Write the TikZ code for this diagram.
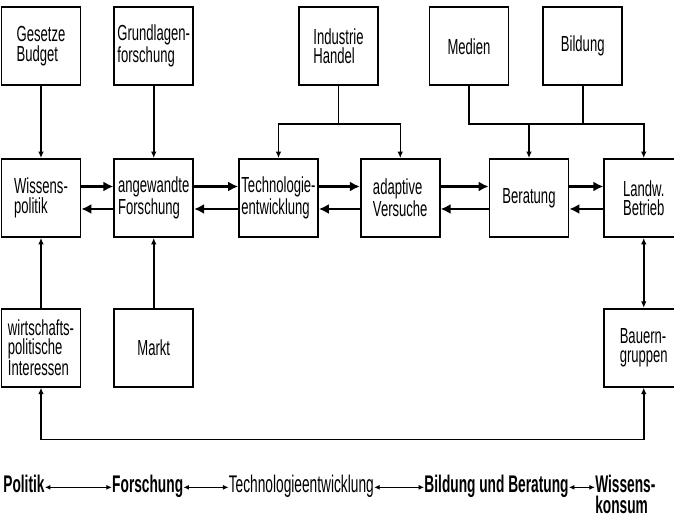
\documentclass[tikz,border=0pt]{standalone}
\usepackage{fontspec}
\setmainfont[FakeStretch=0.6]{Liberation Sans}
\newfontfamily\footfamily[FakeStretch=0.57]{Liberation Sans}
\usetikzlibrary{arrows.meta,calc,positioning}

\newcommand\diagboxfont{\fontsize{12.4pt}{11pt}\selectfont}
\newcommand\diagfootfont{\footfamily\fontsize{13.7pt}{12pt}\selectfont}

\tikzset{
  >={Latex[length=1.3mm,width=1.1mm]},
  box/.style={
    draw, line width=0.35mm,
    minimum width=15.8mm,
    minimum height=15.6mm,
    inner sep=1pt,
    align=left,
    font=\diagboxfont
  },
  link/.style={
    line width=0.3mm
  },
  flow/.style={
    line width=0.55mm,
    -{Latex[length=2mm,width=2mm]}
  },
  foot/.style={
    inner sep=0pt,
    font=\diagfootfont\bfseries
  },
  footarrow/.style={
    <->, line width=0.25mm,
    >={Latex[length=1.1mm,width=1mm]}
  }
}

\begin{document}
\begin{tikzpicture}
  \useasboundingbox (0,0) rectangle (134.8mm,-104mm);

  % middle row
  \node[box] (wissens) at (8.2mm,-39.6mm) {Wissens-\\politik};
  \node[box,right=6.4mm of wissens] (angew) {angewandte\\Forschung};
  \node[box,right=8.8mm of angew] (techno) {Technologie-\\entwicklung};
  \node[box,right=8.2mm of techno] (adaptive) {adaptive\\Versuche};
  \node[box,right=9.6mm of adaptive] (beratung) {Beratung};
  \node[box,right=6.8mm of beratung] (landw) {Landw.\\Betrieb};

  % top row
  \node[box,above=14.4mm of wissens] (gesetze) {Gesetze\\Budget};
  \node[box,above=14.4mm of angew] (grundlagen) {Grundlagen-\\forschung};
  \node[box,above=14.4mm of techno,xshift=12mm] (industrie) {Industrie\\Handel};
  \node[box,above=14.4mm of beratung,xshift=-12mm] (medien) {Medien};
  \node[box,above=14.4mm of landw,xshift=-12.2mm] (bildung) {Bildung};

  % bottom row
  \node[box,below=14mm of wissens] (wirtschaft) {wirtschafts-\\politische\\Interessen};
  \node[box,below=14mm of angew] (markt) {Markt};
  \node[box,below=14mm of landw] (bauern) {Bauern-\\gruppen};

  \foreach \a/\b in {wissens/angew,angew/techno,techno/adaptive,adaptive/beratung,beratung/landw}{
    \draw[flow] ([yshift=2.3mm]\a.east) -- ([yshift=2.3mm]\b.west);
    \draw[flow] ([yshift=-2.2mm]\b.west) -- ([yshift=-2.2mm]\a.east);
  }

  \draw[link,->] (gesetze) -- (wissens);
  \draw[link,->] (grundlagen) -- (angew);
  \draw[link,->] (wirtschaft) -- (wissens);
  \draw[link,->] (markt) -- (angew);

  \coordinate (ij) at ($(industrie.south) + (0,-7.6mm)$);
  \draw[link,->] (industrie) -- (ij) -| (techno);
  \draw[link,->] (ij) -| (adaptive);

  \coordinate (mj) at ($(medien.south) + (0,-7.6mm)$);
  \draw[link,->] (medien) -- (mj) -| (landw);
  \draw[link] (bildung) -- (bildung |- mj);
  \draw[link,->] (beratung |- mj) -- (beratung);

  \draw[link,<->] (landw) -- (bauern);

  \coordinate (fb) at ($(wirtschaft.south) + (0,-10.4mm)$);
  \draw[link,<->] (wirtschaft) -- (fb) -| (bauern);

  % bottom line
  \node[foot,anchor=base west] (politik) at (0.6mm,-98.4mm) {Politik};
  \node[foot,base right=13.4mm of politik] (forschung) {Forschung};
  \node[foot,font=\diagfootfont,base right=9mm of forschung] (tech) {Technologieentwicklung};
  \node[foot,base right=10mm of tech] (bildber) {Bildung und Beratung};
  \node[foot,align=left,right=5.2mm of bildber.north east,anchor=north west] (konsum) {Wissens-\\konsum};

  \draw[footarrow] (politik.mid east) -- (forschung.mid west);
  \draw[footarrow] (forschung.mid east) -- (tech.mid west);
  \draw[footarrow] (tech.mid east) -- (bildber.mid west);
  \draw[footarrow] (bildber.mid east) -- (bildber.mid east -| konsum.west);
\end{tikzpicture}
\end{document}
